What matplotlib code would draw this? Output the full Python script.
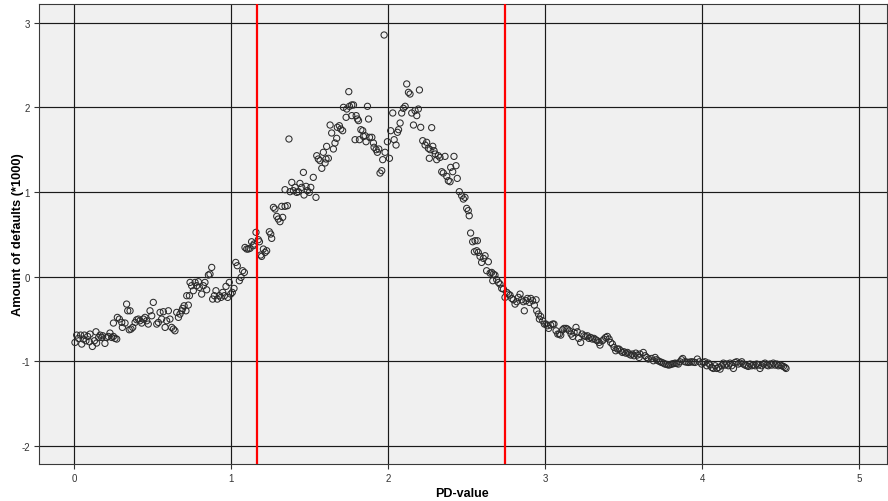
import matplotlib
matplotlib.use("Agg")
import matplotlib.pyplot as plt

# (PD-value, amount of defaults in thousands)
left_tail = [
    (0.006, -0.776), (0.017, -0.689), (0.028, -0.728), (0.042, -0.689), (0.049, -0.795),
    (0.059, -0.736), (0.066, -0.689), (0.076, -0.756), (0.087, -0.705), (0.098, -0.768),
    (0.102, -0.677), (0.117, -0.823), (0.130, -0.756), (0.140, -0.650), (0.144, -0.783),
    (0.157, -0.717), (0.166, -0.689), (0.176, -0.717), (0.183, -0.697), (0.197, -0.787),
    (0.208, -0.717), (0.219, -0.705), (0.229, -0.665), (0.240, -0.717), (0.251, -0.705),
    (0.261, -0.728), (0.272, -0.736),
    (0.251, -0.547), (0.276, -0.480), (0.289, -0.500), (0.304, -0.539), (0.308, -0.598),
    (0.325, -0.547), (0.335, -0.323), (0.342, -0.402), (0.357, -0.402), (0.352, -0.626),
    (0.363, -0.618), (0.374, -0.598), (0.389, -0.539), (0.399, -0.508), (0.410, -0.500),
    (0.420, -0.520), (0.431, -0.547), (0.442, -0.500), (0.452, -0.480), (0.463, -0.520),
    (0.473, -0.559), (0.484, -0.402), (0.495, -0.461), (0.505, -0.303), (0.527, -0.559),
    (0.537, -0.539), (0.548, -0.421), (0.558, -0.500), (0.569, -0.413), (0.580, -0.598),
    (0.590, -0.520), (0.601, -0.402), (0.611, -0.500), (0.622, -0.598), (0.633, -0.618),
    (0.643, -0.638),
    (0.654, -0.421), (0.665, -0.480), (0.675, -0.441), (0.686, -0.402), (0.692, -0.374),
    (0.701, -0.343), (0.713, -0.402), (0.728, -0.335), (0.718, -0.224), (0.735, -0.224),
    (0.739, -0.067), (0.749, -0.106), (0.760, -0.165), (0.771, -0.067), (0.781, -0.106),
    (0.792, -0.059), (0.798, -0.126), (0.813, -0.205), (0.824, -0.106), (0.834, -0.067),
    (0.845, -0.154), (0.856, 0.020), (0.866, 0.031), (0.877, 0.110),
    (0.883, -0.264), (0.894, -0.224), (0.904, -0.165), (0.913, -0.264), (0.926, -0.224),
    (0.936, -0.244), (0.947, -0.185), (0.958, -0.224), (0.968, -0.114), (0.979, -0.244),
    (0.989, -0.067), (0.998, -0.205), (1.008, -0.185), (1.019, -0.138), (1.030, 0.169),
    (1.040, 0.130), (1.053, -0.047), (1.064, -0.008), (1.074, 0.071), (1.085, 0.051),
]

rise = [
    (1.089, 0.346), (1.100, 0.327), (1.110, 0.327), (1.121, 0.335), (1.131, 0.413),
    (1.142, 0.366), (1.146, 0.386), (1.159, 0.524), (1.174, 0.437), (1.181, 0.413),
    (1.189, 0.256), (1.195, 0.240), (1.206, 0.327), (1.217, 0.287), (1.227, 0.307),
    (1.244, 0.531), (1.253, 0.504), (1.259, 0.453), (1.270, 0.819), (1.280, 0.799),
    (1.291, 0.713), (1.301, 0.681), (1.312, 0.650), (1.323, 0.831), (1.329, 0.701),
    (1.344, 0.831), (1.359, 0.839), (1.369, 1.626), (1.344, 1.028), (1.376, 1.004),
    (1.387, 1.114), (1.397, 1.016), (1.408, 1.055), (1.418, 0.996), (1.429, 1.004),
    (1.439, 1.102), (1.450, 1.055), (1.461, 1.232), (1.465, 0.965), (1.478, 1.067),
    (1.486, 1.016), (1.499, 0.996), (1.508, 1.055), (1.524, 1.173), (1.541, 0.937),
]

peak = [
    (1.546, 1.429), (1.556, 1.390), (1.567, 1.370), (1.578, 1.280), (1.588, 1.469),
    (1.599, 1.343), (1.605, 1.390), (1.609, 1.539), (1.620, 1.398), (1.631, 1.791),
    (1.641, 1.697), (1.652, 1.508), (1.662, 1.579), (1.673, 1.634), (1.677, 1.764),
    (1.690, 1.783), (1.699, 1.744), (1.711, 1.724), (1.716, 2.000), (1.733, 1.882),
    (1.737, 1.980), (1.750, 2.185), (1.754, 2.012), (1.769, 2.028), (1.769, 1.902),
    (1.780, 2.028), (1.790, 1.618), (1.797, 1.902), (1.805, 1.862), (1.812, 1.843),
    (1.818, 1.618), (1.827, 1.736), (1.839, 1.724), (1.843, 1.657), (1.854, 1.665),
    (1.860, 1.594), (1.869, 2.012), (1.876, 1.862), (1.882, 1.646), (1.897, 1.646),
    (1.907, 1.579), (1.911, 1.528), (1.924, 1.500), (1.932, 1.469), (1.941, 1.508),
    (1.949, 1.224), (1.960, 1.252), (1.966, 1.382), (1.975, 2.854), (1.981, 1.469),
    (1.996, 1.594), (2.009, 1.398), (2.017, 1.724), (2.030, 1.933), (2.039, 1.618),
    (2.051, 1.555), (2.060, 1.705), (2.067, 1.736), (2.077, 1.815), (2.087, 1.933),
    (2.098, 1.988), (2.109, 2.012), (2.119, 2.276), (2.130, 2.177), (2.140, 2.157),
    (2.151, 1.933), (2.162, 1.791), (2.172, 1.961), (2.183, 1.902), (2.193, 1.980),
    (2.200, 2.205),
]

fall = [
    (2.208, 1.764), (2.221, 1.606), (2.236, 1.555), (2.246, 1.587), (2.257, 1.516),
    (2.263, 1.398), (2.268, 1.500), (2.278, 1.760), (2.285, 1.540), (2.293, 1.488),
    (2.301, 1.449), (2.310, 1.382), (2.320, 1.429), (2.331, 1.409), (2.342, 1.240),
    (2.352, 1.224), (2.363, 1.421), (2.374, 1.185), (2.384, 1.134), (2.395, 1.122),
    (2.399, 1.291), (2.412, 1.240), (2.420, 1.421), (2.433, 1.311), (2.441, 1.161),
    (2.454, 1.004), (2.469, 0.957), (2.480, 0.917), (2.490, 0.937), (2.501, 0.807),
    (2.511, 0.780), (2.517, 0.720), (2.526, 0.516), (2.539, 0.413), (2.550, 0.295),
    (2.554, 0.425), (2.565, 0.307), (2.569, 0.425), (2.575, 0.287), (2.586, 0.240),
    (2.596, 0.169), (2.607, 0.217), (2.618, 0.248), (2.628, 0.071), (2.639, 0.177),
    (2.650, 0.043), (2.660, 0.051), (2.667, -0.047), (2.671, 0.031), (2.681, 0.020),
    (2.692, -0.035), (2.703, -0.067), (2.713, -0.087), (2.724, -0.138), (2.735, -0.146),
    (2.745, -0.244), (2.756, -0.185), (2.766, -0.205), (2.777, -0.217), (2.788, -0.256),
    (2.798, -0.272), (2.809, -0.323), (2.820, -0.295), (2.830, -0.244), (2.841, -0.205),
    (2.851, -0.272), (2.862, -0.295), (2.868, -0.402), (2.879, -0.283), (2.888, -0.256),
    (2.900, -0.303), (2.909, -0.256), (2.921, -0.283), (2.932, -0.335), (2.943, -0.272),
    (2.947, -0.402), (2.958, -0.441), (2.964, -0.500), (2.972, -0.469), (2.985, -0.520),
    (2.996, -0.559), (3.006, -0.559), (3.015, -0.579), (3.023, -0.610), (3.036, -0.571),
    (3.049, -0.559), (3.057, -0.559), (3.070, -0.638), (3.081, -0.677), (3.091, -0.677),
    (3.100, -0.689), (3.112, -0.626), (3.121, -0.610), (3.134, -0.610), (3.142, -0.618),
    (3.155, -0.638), (3.166, -0.677), (3.176, -0.705), (3.185, -0.657), (3.197, -0.598),
    (3.206, -0.650), (3.214, -0.728), (3.227, -0.776), (3.236, -0.677), (3.248, -0.697),
    (3.259, -0.705), (3.270, -0.697), (3.280, -0.728), (3.291, -0.717), (3.302, -0.736),
    (3.312, -0.728), (3.323, -0.744), (3.333, -0.756), (3.344, -0.776), (3.350, -0.807),
    (3.365, -0.756), (3.376, -0.736), (3.386, -0.717), (3.397, -0.705), (3.408, -0.736),
    (3.418, -0.776), (3.429, -0.795), (3.440, -0.835), (3.450, -0.874), (3.461, -0.854),
    (3.471, -0.854), (3.482, -0.874), (3.493, -0.894), (3.503, -0.886), (3.514, -0.902),
    (3.525, -0.894), (3.535, -0.913), (3.546, -0.925), (3.556, -0.913), (3.567, -0.933),
    (3.578, -0.902), (3.588, -0.925), (3.599, -0.953),
]

right_tail = [
    (3.605, -0.913), (3.626, -0.894), (3.637, -0.933), (3.648, -0.953), (3.658, -0.972),
    (3.679, -0.965), (3.690, -0.992), (3.701, -0.953), (3.710, -0.980), (3.720, -0.992),
    (3.733, -1.004), (3.743, -1.012), (3.754, -1.020), (3.764, -1.031), (3.775, -1.035),
    (3.786, -1.043), (3.796, -1.039), (3.807, -1.031), (3.817, -1.027), (3.828, -1.020),
    (3.838, -1.024), (3.849, -1.031), (3.860, -1.004), (3.870, -0.980), (3.877, -0.965),
    (3.891, -1.004), (3.902, -1.008), (3.913, -1.012), (3.923, -1.008), (3.934, -1.004),
    (3.945, -1.008), (3.955, -1.012), (3.970, -0.972), (3.983, -1.004), (3.998, -1.031),
    (4.008, -1.012), (4.019, -1.004), (4.030, -1.051), (4.040, -1.020), (4.051, -1.043),
    (4.062, -1.071), (4.072, -1.083), (4.083, -1.051), (4.094, -1.083), (4.104, -1.071),
    (4.115, -1.091), (4.125, -1.051), (4.136, -1.020), (4.146, -1.043), (4.157, -1.031),
    (4.168, -1.051), (4.178, -1.020), (4.189, -1.051), (4.200, -1.083), (4.210, -1.012),
    (4.221, -1.004), (4.231, -1.031), (4.242, -1.020), (4.253, -1.004), (4.263, -1.031),
    (4.274, -1.043), (4.285, -1.051), (4.295, -1.059), (4.306, -1.031), (4.316, -1.051),
    (4.327, -1.043), (4.338, -1.051), (4.348, -1.031), (4.359, -1.043), (4.369, -1.083),
    (4.380, -1.051), (4.391, -1.031), (4.401, -1.020), (4.412, -1.043), (4.422, -1.051),
    (4.433, -1.031), (4.444, -1.043), (4.454, -1.020), (4.465, -1.043), (4.476, -1.031),
    (4.486, -1.051), (4.497, -1.043), (4.508, -1.051), (4.518, -1.059), (4.529, -1.071),
    (4.535, -1.083),
]

cutoffs = [1.165, 2.745]
x_ticks = [0, 1, 2, 3, 4, 5]
y_ticks = [-2, -1, 0, 1, 2, 3]

points = left_tail + rise + peak + fall + right_tail
pd_value = [p[0] for p in points]
defaults = [p[1] for p in points]

plt.rcParams['font.family'] = ['Liberation Sans', 'DejaVu Sans']
plt.rcParams['axes.unicode_minus'] = False

fig = plt.figure(figsize=(8.88, 5.02), dpi=100)
ax = fig.add_axes([39 / 888, 1 - 465 / 502, 848 / 888, 460 / 502])
ax.set_facecolor('#f0f0f0')

ax.scatter(pd_value, defaults, s=20, facecolors='none', edgecolors='#2b2b2b',
           linewidths=0.75, zorder=3)

for c in cutoffs:
    ax.axvline(c, color='#ff0000', lw=1.6, zorder=4)

ax.set_xlim(-0.223, 5.178)
ax.set_ylim(-2.211, 3.22)
ax.set_xticks(x_ticks)
ax.set_yticks(y_ticks)
ax.grid(True, color='#1a1a1a', lw=0.85, zorder=1)
ax.set_axisbelow(True)

ax.tick_params(direction='out', length=3.5, width=0.8, colors='#333333',
               labelsize=7, pad=3)
for s in ax.spines.values():
    s.set_color('#3a3a3a')
    s.set_linewidth(0.8)

ax.set_xlabel('PD-value', fontsize=9, fontweight='bold')
ax.set_ylabel('Amount of defaults (*1000)', fontsize=9.3, fontweight='bold')
ax.xaxis.set_label_coords(0.499, -0.05)
ax.yaxis.set_label_coords(-0.018, 0.5)

fig.savefig('out.png', dpi=100)
